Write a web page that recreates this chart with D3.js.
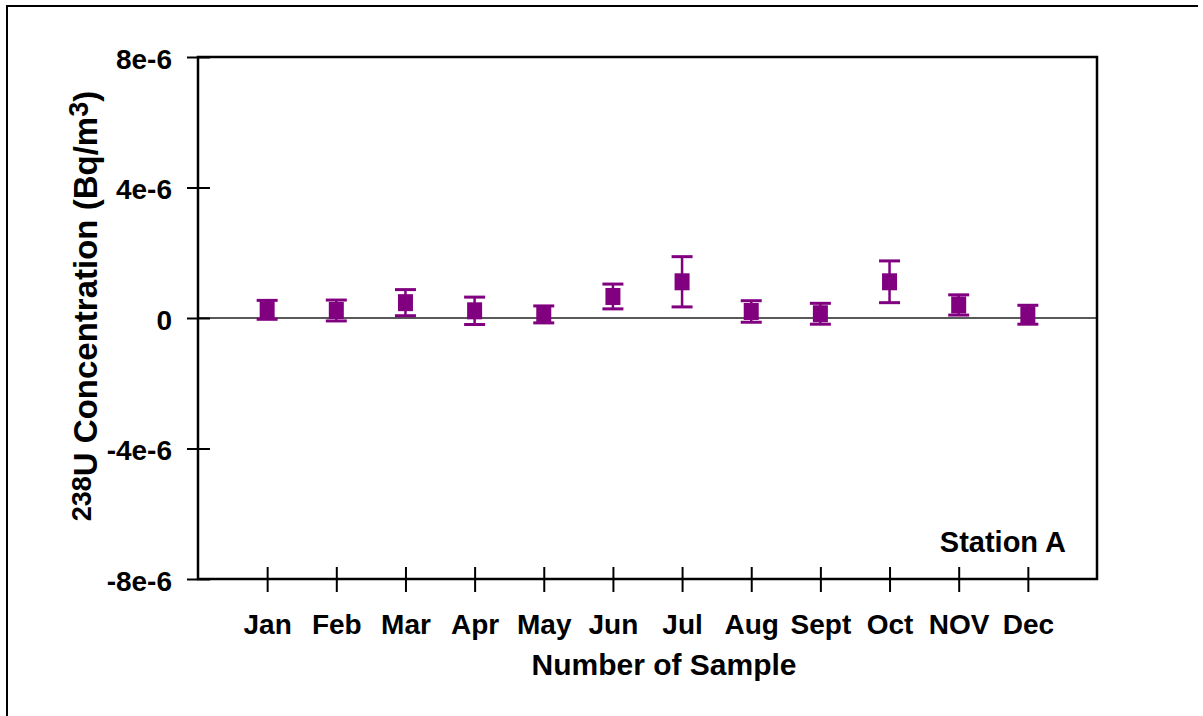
<!DOCTYPE html>
<html>
<head>
<meta charset="utf-8">
<script src="https://cdn.jsdelivr.net/npm/d3@7"></script>
<style>
  html, body { margin: 0; padding: 0; background: #fff; }
  svg { display: block; }
  text { font-family: Arial, "Liberation Sans", sans-serif; font-weight: bold; fill: #000; }
</style>
</head>
<body>
<svg id="chart" width="1203" height="716"></svg>
<script>
const months = ["Jan","Feb","Mar","Apr","May","Jun","Jul","Aug","Sept","Oct","NOV","Dec"];
const values = [0.25e-6, 0.23e-6, 0.47e-6, 0.22e-6, 0.11e-6, 0.66e-6, 1.11e-6, 0.20e-6, 0.13e-6, 1.11e-6, 0.40e-6, 0.10e-6];
const errors = [0.29e-6, 0.32e-6, 0.40e-6, 0.42e-6, 0.26e-6, 0.38e-6, 0.77e-6, 0.33e-6, 0.32e-6, 0.64e-6, 0.31e-6, 0.29e-6];
const yTicks = [-8e-6, -4e-6, 0, 4e-6, 8e-6];
const yTickLabels = ["-8e-6", "-4e-6", "0", "4e-6", "8e-6"];

const color = "#800080";
const svg = d3.select("#chart");

// picture frame (top and left edges)
svg.append("line").attr("x1", 6).attr("x2", 1198).attr("y1", 6).attr("y2", 6)
  .attr("stroke", "#000").attr("stroke-width", 2);
svg.append("line").attr("x1", 7).attr("x2", 7).attr("y1", 6).attr("y2", 716)
  .attr("stroke", "#000").attr("stroke-width", 2);

const pLeft = 198, pRight = 1097, pTop = 57, pBottom = 579;
const x = d3.scaleLinear().domain([0, 13]).range([pLeft, pRight]);
const y = d3.scaleLinear().domain([-8e-6, 8e-6]).range([pBottom, pTop]);

// zero line
svg.append("line").attr("x1", pLeft).attr("x2", pRight).attr("y1", y(0)).attr("y2", y(0))
  .attr("stroke", "#222").attr("stroke-width", 1.5);

// plot box
svg.append("rect").attr("x", pLeft).attr("y", pTop).attr("width", pRight - pLeft).attr("height", pBottom - pTop)
  .attr("fill", "none").attr("stroke", "#000").attr("stroke-width", 2.5);

// y axis
const yAxis = svg.append("g").attr("transform", `translate(${pLeft},0)`)
  .call(d3.axisLeft(y).tickValues(yTicks).tickSize(11).tickPadding(15)
    .tickFormat((d, i) => yTickLabels[i]));
yAxis.select(".domain").remove();
yAxis.selectAll(".tick line").attr("x1", 12).attr("stroke", "#000").attr("stroke-width", 2);
yAxis.selectAll(".tick text").style("font-size", "28px").attr("dy", "0.4em");

// x axis
const xAxis = svg.append("g").attr("transform", `translate(0,${pBottom})`)
  .call(d3.axisBottom(x).tickValues(d3.range(1, 13)).tickSize(13).tickPadding(22)
    .tickFormat(d => months[d - 1]));
xAxis.select(".domain").remove();
xAxis.selectAll(".tick line").attr("y1", -12).attr("stroke", "#000").attr("stroke-width", 2);
xAxis.selectAll(".tick text").style("font-size", "28px").attr("dy", "0.71em");

// error bars
const g = svg.append("g");
const capW = 10.5;
months.forEach((m, i) => {
  const cx = x(i + 1);
  const v = values[i], e = errors[i];
  g.append("line").attr("x1", cx).attr("x2", cx).attr("y1", y(v + e)).attr("y2", y(v - e))
    .attr("stroke", color).attr("stroke-width", 2.5);
  g.append("line").attr("x1", cx - capW).attr("x2", cx + capW).attr("y1", y(v + e)).attr("y2", y(v + e))
    .attr("stroke", color).attr("stroke-width", 3);
  g.append("line").attr("x1", cx - capW).attr("x2", cx + capW).attr("y1", y(v - e)).attr("y2", y(v - e))
    .attr("stroke", color).attr("stroke-width", 3);
  g.append("rect").attr("x", cx - 7.5).attr("y", y(v) - 8.5).attr("width", 15).attr("height", 17)
    .attr("fill", color);
});

// station label
svg.append("text").attr("x", 1066).attr("y", 552).attr("text-anchor", "end")
  .style("font-size", "29px").text("Station A");

// x title
svg.append("text").attr("x", 664).attr("y", 675).attr("text-anchor", "middle")
  .style("font-size", "30px").text("Number of Sample");

// y title
const yt = svg.append("text").attr("transform", "translate(97,306) rotate(-90)")
  .attr("text-anchor", "middle").style("font-size", "33px");
yt.append("tspan").style("font-size", "27px").attr("dy", -6).text("238");
yt.append("tspan").attr("dy", 6).text("U Concentration (Bq/m");
yt.append("tspan").style("font-size", "27px").attr("dy", -9).text("3");
yt.append("tspan").attr("dy", 9).text(")");
</script>
</body>
</html>
